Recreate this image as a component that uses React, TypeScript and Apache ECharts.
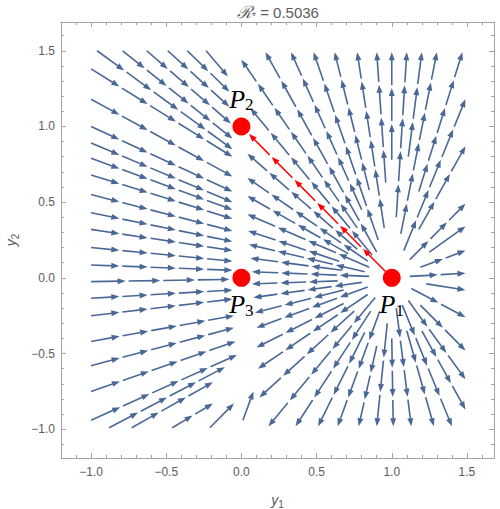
import React, { useEffect, useRef } from "react";
import * as echarts from "echarts";

// ---------- axes ----------
const X_MIN = -1.2;
const X_MAX = 1.68;
const Y_MIN = -1.19;
const Y_MAX = 1.69;
const majorTicks = [-1.0, -0.5, 0.0, 0.5, 1.0, 1.5];
const minorTicks = [-1.1, -0.9, -0.8, -0.7, -0.6, -0.4, -0.3, -0.2, -0.1, 0.1, 0.2, 0.3, 0.4, 0.6, 0.7, 0.8, 0.9, 1.1, 1.2, 1.3, 1.4, 1.6];

// ---------- equilibria ----------
const eqY1 = [1, 0, 0];
const eqY2 = [0, 1, 0];
const eqSub = ["1", "2", "3"];
const eqLabelPos = ["bottom", "top", "bottom"];
const titleValue = "0.5036";

// ---------- streamlines ([y1, y2]) ----------
// flow from the left half towards the y1 = 0 axis
const leftFlow: number[][][] = [
  [[-0.235, 1.5], [-0.09, 1.33]],
  [[-0.36, 1.5], [-0.08, 1.23]],
  [[-0.49, 1.5], [-0.08, 1.13]],
  [[-0.63, 1.5], [-0.07, 1.02]],
  [[-0.79, 1.5], [-0.06, 0.92]],
  [[-0.96, 1.5], [-0.06, 0.85]],
  [[-1, 1.38], [-0.06, 0.8]],
  [[-1, 1.18], [-0.06, 0.67]],
  [[-1, 1.0], [-0.06, 0.57]],
  [[-1, 0.89], [-0.06, 0.5]],
  [[-1, 0.79], [-0.06, 0.45]],
  [[-1, 0.68], [-0.06, 0.39]],
  [[-1, 0.55], [-0.06, 0.31]],
  [[-1, 0.43], [-0.06, 0.24]],
  [[-1, 0.32], [-0.06, 0.18]],
  [[-1, 0.2], [-0.06, 0.11]],
  [[-1, 0.085], [-0.06, 0.05]],
  [[-1, -0.025], [-0.08, -0.01]],
  [[-1, -0.135], [-0.06, -0.08]],
  [[-1, -0.25], [-0.06, -0.14]],
  [[-1, -0.42], [-0.05, -0.25]],
  [[-1, -0.58], [-0.05, -0.33]],
  [[-1, -0.75], [-0.04, -0.42]],
  [[-1, -0.94], [-0.03, -0.51]],
  [[-0.88, -0.99], [-0.11, -0.59]],
  [[-0.73, -0.99], [-0.19, -0.69]],
  [[-0.46, -0.99], [-0.19, -0.83]],
  [[-0.21, -0.99], [-0.05, -0.83]],
  [[0.01, -0.94], [0.08, -0.75]],
];

// flow leaving the source P1
const sourceFlow: number[][][] = [
  [[0.9, 0.17], [0.16, 1.49]],
  [[0.8, 0.45], [0.33, 1.49]],
  [[0.91, 0.25], [0.48, 1.49]],
  [[0.85, 0.58], [0.62, 1.49]],
  [[0.95, 0.33], [0.77, 1.49]],
  [[0.96, 0.63], [0.9, 1.49]],
  [[1.0, 0.78], [1.0, 1.49]],
  [[1.03, 0.4], [1.1, 1.49]],
  [[1.11, 0.8], [1.2, 1.49]],
  [[1.06, 0.29], [1.3, 1.49]],
  [[1.18, 0.57], [1.47, 1.49]],
  [[1.08, 0.18], [1.49, 1.18]],
  [[1.18, 0.32], [1.49, 0.87]],
  [[1.12, 0.12], [1.49, 0.49]],
  [[1.25, 0.17], [1.49, 0.34]],
  [[1.19, 0.07], [1.49, 0.18]],
  [[1.12, 0.01], [1.49, 0.03]],
  [[1.23, -0.04], [1.49, -0.08]],
  [[1.13, -0.07], [1.49, -0.26]],
  [[1.19, -0.18], [1.49, -0.48]],
  [[1.11, -0.15], [1.49, -0.67]],
  [[1.2, -0.35], [1.49, -0.87]],
  [[1.07, -0.18], [1.4, -0.98]],
  [[1.1, -0.35], [1.28, -0.98]],
  [[1.03, -0.2], [1.13, -0.98]],
  [[1.0, -0.4], [1.01, -0.98]],
  [[0.97, -0.3], [0.9, -0.98]],
  [[0.9, -0.45], [0.78, -0.98]],
  [[0.92, -0.22], [0.64, -0.98]],
  [[0.82, -0.36], [0.51, -0.98]],
  [[0.86, -0.22], [0.36, -0.98]],
  [[0.89, -0.13], [0.18, -0.98]],
  [[0.75, -0.22], [0.12, -0.79]],
  [[0.84, -0.11], [0.11, -0.6]],
  [[0.68, -0.17], [0.1, -0.46]],
  [[0.84, -0.06], [0.1, -0.33]],
  [[0.68, -0.08], [0.09, -0.23]],
  [[0.8, -0.03], [0.08, -0.13]],
  [[0.64, -0.02], [0.07, -0.04]],
  [[0.85, 0.01], [0.07, 0.04]],
  [[0.67, 0.05], [0.06, 0.13]],
  [[0.82, 0.04], [0.05, 0.22]],
  [[0.65, 0.11], [0.045, 0.31]],
  [[0.85, 0.07], [0.04, 0.42]],
  [[0.71, 0.16], [0.04, 0.54]],
  [[0.84, 0.11], [0.04, 0.66]],
  [[0.77, 0.19], [0.04, 0.82]],
  [[0.87, 0.15], [0.06, 1.12]],
  [[0.77, 0.33], [0.0, 1.44]],
];

// heteroclinic orbit P1 -> P2
const separatrix: number[][][] = [[[0.96, 0.04], [0.05, 0.95]]];

// ---------- style ----------
const STREAM = "#4a6896";
const RED = "#ff0000";
const FRAME = "#a2a2a2";
const LABEL = "#5c5c5c";
const SEG = 31;
const GAP = 3;
const HEAD_L = 8;
const HEAD_W = 3;

function arrowGroup(pix: number[][], color: string, lw: number) {
  const cum = [0];
  for (let i = 1; i < pix.length; i++) {
    cum.push(cum[i - 1] + Math.hypot(pix[i][0] - pix[i - 1][0], pix[i][1] - pix[i - 1][1]));
  }
  const L = cum[cum.length - 1];
  const n = Math.max(1, Math.round(L / SEG));
  const s = L / n;
  const at = (d: number) => {
    let i = 1;
    while (i < pix.length - 1 && cum[i] < d) i++;
    const len = cum[i] - cum[i - 1] || 1;
    const t = Math.min(1, Math.max(0, (d - cum[i - 1]) / len));
    const dx = pix[i][0] - pix[i - 1][0];
    const dy = pix[i][1] - pix[i - 1][1];
    return { x: pix[i - 1][0] + dx * t, y: pix[i - 1][1] + dy * t, ux: dx / len, uy: dy / len };
  };
  const children: any[] = [];
  for (let k = 0; k < n; k++) {
    const d0 = k * s + (k > 0 ? GAP : 0);
    const d1 = (k + 1) * s;
    const dl = d1 - HEAD_L * 0.6;
    if (dl > d0) {
      const a = at(d0);
      const b = at(dl);
      const pts: number[][] = [[a.x, a.y]];
      for (let j = 1; j < pix.length - 1; j++) if (cum[j] > d0 && cum[j] < dl) pts.push(pix[j]);
      pts.push([b.x, b.y]);
      children.push({
        type: "polyline",
        shape: { points: pts },
        style: { stroke: color, lineWidth: lw, fill: "none" },
        silent: true,
      });
    }
    const h = at(d1);
    const bx = h.x - h.ux * HEAD_L;
    const by = h.y - h.uy * HEAD_L;
    children.push({
      type: "polygon",
      shape: {
        points: [
          [h.x, h.y],
          [bx - h.uy * HEAD_W, by + h.ux * HEAD_W],
          [bx + h.uy * HEAD_W, by - h.ux * HEAD_W],
        ],
      },
      style: { fill: color, stroke: "none" },
      silent: true,
    });
  }
  return { type: "group", children };
}

function streamSeries(lines: number[][][], color: string, lw: number, z: number) {
  return {
    type: "custom",
    coordinateSystem: "cartesian2d",
    xAxisIndex: 0,
    yAxisIndex: 0,
    z,
    silent: true,
    clip: true,
    data: lines.map((l, i) => [l[0][0], l[0][1], i]),
    renderItem: (params: any, api: any) => {
      const idx = api.value(2);
      const pix = lines[idx].map((p) => api.coord(p));
      return arrowGroup(pix, color, lw);
    },
  };
}

const fmt = (v: number) => (v < 0 ? "\u2212" : "") + Math.abs(v).toFixed(1);

function axis(min: number, max: number, position: string, major: boolean, labels: boolean, extra: any = {}) {
  return {
    type: "value",
    min,
    max,
    position,
    splitLine: { show: false },
    axisLine: { show: major, onZero: false, lineStyle: { color: FRAME, width: 1 } },
    axisTick: {
      show: true,
      inside: true,
      length: major ? 5 : 3,
      customValues: major ? majorTicks : minorTicks,
      lineStyle: { color: FRAME, width: 1 },
    },
    axisLabel: labels
      ? {
          show: true,
          customValues: majorTicks,
          formatter: fmt,
          color: LABEL,
          fontSize: 12,
          fontFamily: "Liberation Sans",
          margin: position === "bottom" ? 8 : 6,
        }
      : { show: false },
    ...extra,
  };
}

const nameRich = {
  i: { fontFamily: "Liberation Sans", fontStyle: "italic", fontSize: 14, color: LABEL, lineHeight: 18 },
  s: { fontFamily: "Liberation Sans", fontSize: 10, color: LABEL, lineHeight: 12, verticalAlign: "bottom" },
};

export default function App() {
  const ref = useRef<HTMLDivElement>(null);
  useEffect(() => {
    if (!ref.current) return;
    const chart = echarts.init(ref.current, undefined, { renderer: "svg" });
    const option: any = {
      animation: false,
      backgroundColor: "#ffffff",
      grid: { left: 61, right: 6, top: 22, bottom: 51, containLabel: false, outerBoundsMode: "none" },
      xAxis: [
        axis(X_MIN, X_MAX, "bottom", true, true, {
          name: "{i|y}{s|1}",
          nameLocation: "middle",
          nameGap: 33,
          nameTextStyle: { rich: nameRich },
        }),
        axis(X_MIN, X_MAX, "bottom", false, false),
        axis(X_MIN, X_MAX, "top", true, false),
        axis(X_MIN, X_MAX, "top", false, false),
      ],
      yAxis: [
        axis(Y_MIN, Y_MAX, "left", true, true, {
          name: "{i|y}{s|2}",
          nameLocation: "middle",
          nameGap: 38,
          nameRotate: 90,
          nameTextStyle: { rich: nameRich },
        }),
        axis(Y_MIN, Y_MAX, "left", false, false),
        axis(Y_MIN, Y_MAX, "right", true, false),
        axis(Y_MIN, Y_MAX, "right", false, false),
      ],
      graphic: [
        {
          type: "text",
          x: 278,
          y: 12,
          style: {
            text: "{r|\u211B}{s|*}{n| = " + titleValue + "}",
            align: "center",
            verticalAlign: "middle",
            rich: {
              r: { fontFamily: "DejaVu Serif", fontStyle: "italic", fontSize: 17, fill: LABEL, lineHeight: 18 },
              s: { fontFamily: "Liberation Sans", fontSize: 10, fill: LABEL, lineHeight: 12, verticalAlign: "bottom" },
              n: { fontFamily: "Liberation Sans", fontSize: 15, fill: LABEL, lineHeight: 18 },
            },
          },
        },
      ],
      series: [
        streamSeries(leftFlow, STREAM, 1.6, 2),
        streamSeries(sourceFlow, STREAM, 1.6, 2),
        streamSeries(separatrix, RED, 1.5, 3),
        {
          type: "scatter",
          xAxisIndex: 0,
          yAxisIndex: 0,
          z: 5,
          symbol: "circle",
          symbolSize: 18,
          itemStyle: { color: RED, opacity: 1 },
          silent: true,
          data: eqY1.map((v, i) => ({
            value: [v, eqY2[i]],
            label: {
              show: true,
              position: eqLabelPos[i],
              distance: 4,
              formatter: "{p|P}{s|" + eqSub[i] + "}",
              rich: {
                p: { fontFamily: "Liberation Serif", fontStyle: "italic", fontSize: 26, color: "#000", lineHeight: 28 },
                s: { fontFamily: "Liberation Serif", fontSize: 17, color: "#000", lineHeight: 16, verticalAlign: "bottom" },
              },
            },
          })),
        },
      ],
    };
    chart.setOption(option);
    return () => chart.dispose();
  }, []);
  return <div ref={ref} style={{ position: "absolute", left: 0, top: 0, width: 500, height: 509 }} />;
}
